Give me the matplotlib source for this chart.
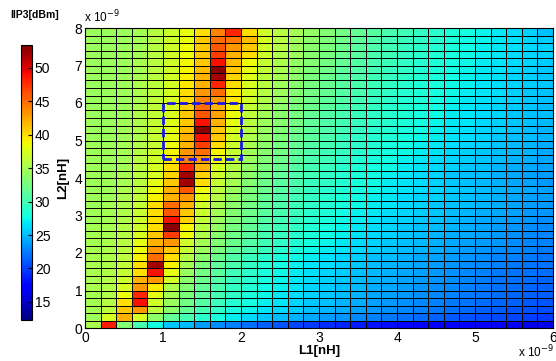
import numpy as np
import matplotlib.pyplot as plt
from matplotlib.patches import Rectangle

plt.rcParams['font.family'] = ['Liberation Sans', 'DejaVu Sans']

# sweep grid (nH): cell edges along L1 and L2
l1_edges = np.linspace(0, 6, 31)
l2_edges = np.linspace(0, 8, 41)

# IIP3 [dBm], one row per L2 step (bottom row first), 30 L1 steps per row
r00 = [35.0, 48.5, 33.3, 30.2, 27.7, 25.6, 25.0, 23.8, 23.2, 22.6, 22.0, 21.4, 20.9, 20.3, 19.8, 19.3, 18.9, 18.5, 18.2, 17.9, 17.6, 17.4, 17.2, 17.0, 16.8, 16.7, 16.6, 16.5, 16.3, 16.2]
r01 = [34.6, 37.5, 42.0, 37.5, 33.8, 31.7, 30.2, 28.8, 27.9, 27.0, 26.2, 25.6, 25.1, 24.6, 24.2, 23.8, 23.4, 23.0, 22.7, 22.4, 22.0, 21.7, 21.4, 21.1, 20.8, 20.6, 20.4, 20.2, 20.0, 19.8]
r02 = [34.8, 36.0, 41.0, 43.0, 36.0, 33.5, 31.6, 30.1, 29.0, 28.0, 27.3, 26.7, 26.2, 25.7, 25.2, 24.8, 24.4, 24.0, 23.6, 23.3, 22.9, 22.6, 22.3, 22.0, 21.7, 21.4, 21.2, 20.9, 20.7, 20.5]
r03 = [34.8, 35.6, 40.0, 49.0, 37.0, 34.2, 32.3, 30.8, 29.6, 28.6, 27.8, 27.1, 26.6, 26.1, 25.6, 25.2, 24.8, 24.4, 24.0, 23.6, 23.3, 23.0, 22.7, 22.4, 22.1, 21.8, 21.5, 21.3, 21.1, 20.9]
r04 = [34.9, 35.5, 38.5, 48.0, 38.0, 34.8, 32.8, 31.3, 30.0, 29.0, 28.1, 27.4, 26.9, 26.4, 25.9, 25.5, 25.1, 24.7, 24.3, 23.9, 23.6, 23.3, 23.0, 22.7, 22.4, 22.1, 21.8, 21.6, 21.4, 21.2]
r05 = [35.0, 35.5, 37.5, 43.0, 39.5, 35.3, 33.2, 31.7, 30.4, 29.3, 28.4, 27.7, 27.1, 26.6, 26.1, 25.7, 25.3, 24.9, 24.5, 24.2, 23.8, 23.5, 23.2, 22.9, 22.6, 22.3, 22.0, 21.8, 21.6, 21.4]
r06 = [35.0, 35.5, 37.0, 42.0, 43.0, 37.0, 33.6, 32.0, 30.7, 29.6, 28.7, 27.9, 27.3, 26.8, 26.3, 25.9, 25.5, 25.1, 24.7, 24.4, 24.0, 23.7, 23.4, 23.1, 22.8, 22.5, 22.2, 22.0, 21.8, 21.6]
r07 = [35.0, 35.5, 36.5, 40.0, 49.0, 38.0, 34.2, 32.4, 31.1, 29.9, 28.9, 28.1, 27.5, 27.0, 26.5, 26.1, 25.7, 25.3, 24.9, 24.6, 24.2, 23.9, 23.6, 23.3, 23.0, 22.7, 22.4, 22.2, 22.0, 21.8]
r08 = [35.0, 35.4, 36.3, 40.0, 52.0, 39.0, 34.8, 32.9, 31.5, 30.3, 29.3, 28.4, 27.7, 27.2, 26.7, 26.3, 25.9, 25.5, 25.1, 24.8, 24.4, 24.1, 23.8, 23.5, 23.2, 22.9, 22.6, 22.4, 22.2, 22.0]
r09 = [35.0, 35.3, 36.2, 39.0, 45.0, 40.0, 35.6, 33.5, 32.0, 30.7, 29.6, 28.7, 28.0, 27.5, 27.0, 26.5, 26.1, 25.7, 25.3, 25.0, 24.6, 24.3, 24.0, 23.7, 23.4, 23.1, 22.8, 22.6, 22.4, 22.2]
r10 = [35.0, 35.2, 36.0, 38.5, 43.0, 41.0, 36.5, 34.3, 32.8, 31.5, 30.4, 29.5, 28.7, 28.0, 27.5, 27.0, 26.6, 26.2, 25.8, 25.4, 25.0, 24.7, 24.4, 24.1, 23.8, 23.5, 23.2, 22.9, 22.6, 22.4]
r11 = [34.9, 35.1, 35.8, 38.0, 42.0, 43.0, 37.0, 34.8, 33.2, 31.9, 30.8, 29.9, 29.1, 28.4, 27.8, 27.3, 26.8, 26.4, 26.0, 25.6, 25.2, 24.9, 24.6, 24.3, 24.0, 23.7, 23.4, 23.1, 22.8, 22.6]
r12 = [34.8, 35.0, 35.7, 37.5, 41.0, 47.0, 38.5, 35.3, 33.6, 32.3, 31.2, 30.2, 29.4, 28.7, 28.1, 27.6, 27.1, 26.6, 26.2, 25.8, 25.4, 25.1, 24.8, 24.5, 24.2, 23.9, 23.6, 23.3, 23.0, 22.8]
r13 = [34.8, 35.0, 35.6, 37.0, 40.0, 53.0, 39.0, 35.8, 34.0, 32.6, 31.5, 30.5, 29.7, 29.0, 28.4, 27.8, 27.3, 26.8, 26.4, 26.0, 25.6, 25.3, 25.0, 24.7, 24.4, 24.1, 23.8, 23.5, 23.2, 23.0]
r14 = [34.7, 34.9, 35.5, 36.8, 40.0, 49.0, 40.5, 36.3, 34.4, 33.0, 31.8, 30.8, 30.0, 29.2, 28.6, 28.0, 27.5, 27.0, 26.6, 26.2, 25.8, 25.5, 25.2, 24.9, 24.6, 24.3, 24.0, 23.7, 23.4, 23.2]
r15 = [34.7, 34.8, 35.4, 36.6, 40.0, 46.0, 41.0, 36.8, 34.8, 33.3, 32.1, 31.1, 30.2, 29.5, 28.8, 28.2, 27.7, 27.2, 26.8, 26.4, 26.0, 25.7, 25.4, 25.1, 24.8, 24.5, 24.2, 23.9, 23.6, 23.4]
r16 = [34.6, 34.8, 35.3, 36.5, 40.0, 45.0, 42.0, 37.0, 35.2, 33.7, 32.4, 31.4, 30.5, 29.7, 29.0, 28.4, 27.9, 27.4, 27.0, 26.6, 26.2, 25.9, 25.6, 25.3, 25.0, 24.7, 24.4, 24.1, 23.8, 23.6]
r17 = [34.6, 34.7, 35.2, 36.3, 39.0, 42.0, 43.0, 38.0, 35.6, 34.0, 32.7, 31.6, 30.7, 29.9, 29.2, 28.6, 28.1, 27.6, 27.2, 26.8, 26.4, 26.1, 25.8, 25.5, 25.2, 24.9, 24.6, 24.3, 24.0, 23.8]
r18 = [34.5, 34.7, 35.1, 36.2, 38.5, 42.0, 46.0, 38.5, 36.0, 34.4, 33.0, 31.9, 31.0, 30.2, 29.4, 28.8, 28.3, 27.8, 27.4, 27.0, 26.6, 26.3, 26.0, 25.7, 25.4, 25.1, 24.8, 24.5, 24.2, 24.0]
r19 = [34.5, 34.6, 35.0, 36.0, 38.0, 41.0, 52.0, 40.0, 36.5, 34.8, 33.3, 32.2, 31.2, 30.4, 29.6, 29.0, 28.4, 27.9, 27.5, 27.0, 26.6, 26.3, 25.9, 25.6, 25.2, 24.9, 24.6, 24.2, 23.9, 23.6]
r20 = [34.5, 34.6, 35.0, 35.9, 37.5, 40.5, 52.0, 40.5, 37.0, 35.2, 33.7, 32.5, 31.5, 30.6, 29.8, 29.1, 28.6, 28.1, 27.6, 27.2, 26.8, 26.4, 26.0, 25.6, 25.3, 25.0, 24.6, 24.3, 24.0, 23.7]
r21 = [34.5, 34.6, 34.9, 35.8, 37.2, 40.0, 48.0, 42.0, 37.5, 35.6, 34.0, 32.8, 31.8, 30.9, 30.1, 29.4, 28.8, 28.3, 27.8, 27.4, 27.0, 26.6, 26.2, 25.8, 25.5, 25.2, 24.8, 24.5, 24.2, 23.9]
r22 = [34.5, 34.5, 34.9, 35.7, 37.0, 39.5, 44.0, 43.0, 38.5, 36.0, 34.4, 33.1, 32.1, 31.2, 30.4, 29.7, 29.0, 28.5, 28.0, 27.6, 27.2, 26.8, 26.4, 26.0, 25.7, 25.4, 25.0, 24.7, 24.4, 24.1]
r23 = [34.5, 34.5, 34.8, 35.6, 36.8, 39.0, 43.0, 45.0, 39.0, 36.4, 34.7, 33.4, 32.4, 31.5, 30.7, 29.9, 29.2, 28.7, 28.2, 27.8, 27.4, 27.0, 26.6, 26.2, 25.9, 25.6, 25.2, 24.9, 24.6, 24.3]
r24 = [34.5, 34.5, 34.8, 35.5, 36.7, 38.5, 42.0, 47.0, 40.0, 36.8, 35.0, 33.7, 32.6, 31.7, 30.9, 30.1, 29.4, 28.9, 28.4, 28.0, 27.6, 27.2, 26.8, 26.4, 26.1, 25.8, 25.4, 25.1, 24.8, 24.5]
r25 = [34.4, 34.5, 34.7, 35.4, 36.6, 38.0, 42.0, 49.0, 41.0, 37.2, 35.3, 34.0, 32.9, 32.0, 31.1, 30.3, 29.6, 29.1, 28.6, 28.2, 27.8, 27.4, 27.0, 26.6, 26.3, 26.0, 25.6, 25.3, 25.0, 24.7]
r26 = [34.4, 34.4, 34.7, 35.4, 36.5, 38.0, 41.5, 53.0, 41.0, 37.6, 35.6, 34.2, 33.1, 32.2, 31.3, 30.5, 29.8, 29.3, 28.8, 28.4, 28.0, 27.6, 27.2, 26.8, 26.5, 26.1, 25.8, 25.4, 25.1, 24.8]
r27 = [34.4, 34.4, 34.7, 35.3, 36.4, 37.8, 41.0, 49.0, 42.0, 38.0, 35.9, 34.5, 33.4, 32.4, 31.5, 30.7, 30.0, 29.5, 29.0, 28.6, 28.1, 27.7, 27.3, 26.9, 26.6, 26.2, 25.9, 25.5, 25.2, 24.9]
r28 = [34.4, 34.4, 34.6, 35.3, 36.3, 37.6, 41.0, 46.0, 42.5, 38.4, 36.2, 34.7, 33.6, 32.6, 31.7, 30.9, 30.2, 29.6, 29.1, 28.7, 28.2, 27.8, 27.4, 27.0, 26.7, 26.3, 26.0, 25.6, 25.3, 25.0]
r29 = [34.4, 34.4, 34.6, 35.2, 36.2, 37.5, 40.5, 45.0, 42.0, 38.8, 36.5, 35.0, 33.8, 32.8, 31.9, 31.1, 30.4, 29.8, 29.3, 28.8, 28.4, 28.0, 27.6, 27.2, 26.8, 26.4, 26.1, 25.7, 25.4, 25.1]
r30 = [34.4, 34.4, 34.6, 35.2, 36.1, 37.4, 40.2, 44.0, 43.0, 39.5, 37.0, 35.4, 34.2, 33.1, 32.2, 31.4, 30.7, 30.0, 29.4, 28.9, 28.5, 28.1, 27.7, 27.3, 26.9, 26.5, 26.2, 25.8, 25.5, 25.2]
r31 = [34.4, 34.4, 34.6, 35.1, 36.0, 37.3, 40.0, 43.0, 45.0, 39.5, 37.2, 35.6, 34.4, 33.3, 32.4, 31.6, 30.9, 30.2, 29.6, 29.1, 28.6, 28.2, 27.8, 27.4, 27.0, 26.6, 26.3, 25.9, 25.6, 25.3]
r32 = [34.4, 34.4, 34.5, 35.1, 36.0, 37.2, 39.5, 42.0, 48.0, 40.0, 37.5, 35.8, 34.6, 33.5, 32.6, 31.8, 31.0, 30.3, 29.7, 29.2, 28.7, 28.3, 27.9, 27.5, 27.1, 26.7, 26.4, 26.0, 25.7, 25.4]
r33 = [34.4, 34.4, 34.5, 35.0, 35.9, 37.1, 39.2, 42.0, 52.0, 40.5, 37.8, 36.0, 34.8, 33.7, 32.8, 32.0, 31.2, 30.5, 29.9, 29.4, 28.9, 28.4, 28.0, 27.6, 27.2, 26.8, 26.5, 26.1, 25.8, 25.5]
r34 = [34.4, 34.4, 34.5, 35.0, 35.9, 37.0, 39.0, 41.5, 53.0, 41.0, 38.0, 36.2, 35.0, 33.9, 33.0, 32.2, 31.4, 30.7, 30.1, 29.5, 29.0, 28.5, 28.1, 27.7, 27.3, 26.9, 26.6, 26.2, 25.9, 25.6]
r35 = [34.4, 34.4, 34.5, 35.0, 35.8, 37.0, 38.8, 41.0, 49.0, 41.5, 38.5, 36.4, 35.2, 34.1, 33.2, 32.4, 31.6, 30.9, 30.2, 29.7, 29.1, 28.6, 28.2, 27.8, 27.4, 27.0, 26.7, 26.3, 26.0, 25.7]
r36 = [34.4, 34.4, 34.5, 34.9, 35.8, 36.9, 38.6, 41.0, 47.0, 42.0, 40.0, 36.8, 35.4, 34.3, 33.4, 32.6, 31.8, 31.1, 30.4, 29.8, 29.3, 28.8, 28.3, 27.9, 27.5, 27.1, 26.8, 26.4, 26.1, 25.8]
r37 = [34.4, 34.4, 34.5, 34.9, 35.7, 36.9, 38.5, 41.0, 46.0, 43.0, 41.0, 37.0, 35.6, 34.5, 33.6, 32.7, 31.9, 31.2, 30.5, 29.9, 29.4, 28.9, 28.4, 28.0, 27.6, 27.2, 26.9, 26.5, 26.2, 25.9]
r38 = [34.4, 34.4, 34.5, 34.9, 35.7, 36.8, 38.3, 41.0, 45.0, 44.5, 41.5, 37.2, 35.7, 34.7, 33.8, 32.9, 32.1, 31.4, 30.7, 30.1, 29.6, 29.1, 28.6, 28.1, 27.7, 27.3, 26.9, 26.5, 26.1, 25.7]
r39 = [34.4, 34.4, 34.5, 34.9, 35.6, 36.8, 38.2, 40.0, 44.0, 48.0, 40.0, 37.0, 35.8, 34.9, 34.0, 33.2, 32.4, 31.7, 31.0, 30.4, 29.9, 29.3, 28.8, 28.3, 27.8, 27.3, 26.8, 26.3, 25.8, 25.3]

iip3 = np.array([r00, r01, r02, r03, r04, r05, r06, r07, r08, r09,
                 r10, r11, r12, r13, r14, r15, r16, r17, r18, r19,
                 r20, r21, r22, r23, r24, r25, r26, r27, r28, r29,
                 r30, r31, r32, r33, r34, r35, r36, r37, r38, r39])

cbar_ticks = [15, 20, 25, 30, 35, 40, 45, 50]
x_ticks = [0, 1, 2, 3, 4, 5, 6]
y_ticks = [0, 1, 2, 3, 4, 5, 6, 7, 8]

# zoomed window marked on the map (nH)
box_l1 = (1.0, 2.0)
box_l2 = (4.5, 6.0)

fig = plt.figure(figsize=(5.56, 3.61), dpi=100)
ax = fig.add_axes([85 / 556, 33 / 361, 468 / 556, 300 / 361])

mesh = ax.pcolormesh(l1_edges, l2_edges, iip3, cmap='jet', vmin=12.3, vmax=53.4,
                     edgecolors='black', linewidth=0.7)

ax.add_patch(Rectangle((box_l1[0], box_l2[0]), box_l1[1] - box_l1[0], box_l2[1] - box_l2[0],
                       fill=False, edgecolor='#1a1ae6', linewidth=2.0, linestyle=(0, (3, 1.5)),
                       zorder=5))

ax.set_xlim(0, 6)
ax.set_ylim(0, 8)
ax.set_xticks(x_ticks)
ax.set_yticks(y_ticks)
ax.tick_params(labelsize=10, direction='in', length=3, pad=2)
ax.set_xlabel('L1[nH]', fontsize=9.5, fontweight='bold', labelpad=0)
ax.set_ylabel('L2[nH]', fontsize=9.5, fontweight='bold', labelpad=4)
for s in ax.spines.values():
    s.set_linewidth(0.8)

# exponent labels in MATLAB style
fig.text(84 / 556, 1 - 17 / 361, 'x 10$^{-9}$', fontsize=8.5, ha='left', va='center')
fig.text(554 / 556, 1 - 352 / 361, 'x 10$^{-9}$', fontsize=8.5, ha='right', va='center')

cax = fig.add_axes([21 / 556, 41 / 361, 11 / 556, 275 / 361])
cb = fig.colorbar(mesh, cax=cax, ticks=cbar_ticks)
cb.ax.tick_params(labelsize=10, direction='in', length=3, pad=2)
cb.outline.set_linewidth(0.8)
fig.text(35 / 556, 1 - 15 / 361, 'IIP3[dBm]', fontsize=7.5, fontweight='bold',
         ha='center', va='center')

fig.savefig('out.png', dpi=100)
